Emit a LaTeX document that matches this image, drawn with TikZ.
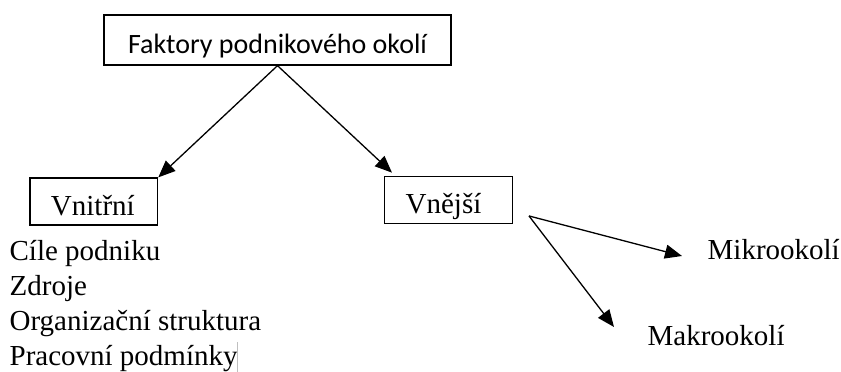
\documentclass[tikz,border=0pt]{standalone}
\usepackage{fontspec}
\setmainfont{Liberation Serif}
\newfontfamily\calibri{Carlito}
\usetikzlibrary{arrows.meta}

\begin{document}
\begin{tikzpicture}[x=1pt,y=-1pt,line width=1.3pt,
    font=\fontsize{29}{35}\selectfont,
    box/.style={draw,inner ysep=0pt,text height=37pt,text depth=10pt},
    item/.style={anchor=base west,inner sep=0pt},
    arr/.style={-{Triangle[length=17pt,width=14pt]}}]

\useasboundingbox (0,0) rectangle (841,372);

\def\listX{9}

\draw (277.5,53) node[box,anchor=base,minimum width=347pt,text height=38pt,text depth=12pt,
    font=\fontsize{28}{34}\selectfont\calibri] (faktory) {Faktory podnikového okolí};

\draw (29.3,215) node[box,anchor=base west,inner xsep=21pt,text width=85.7pt] (vnitrni) {Vnitřní};
\draw (384,213.3) node[box,anchor=base west,inner xsep=21pt,text width=85.7pt] (vnejsi) {Vnější};

\draw[arr] (faktory.south) -- (vnitrni.north east);
\draw[arr] (faktory.south) -- ([xshift=8pt,yshift=3pt]vnejsi.north west);

% vnitrni faktory
\draw (\listX,260) node[item] (cile) {Cíle podniku};
\draw (\listX,295) node[item] (zdroje) {Zdroje};
\draw (\listX,330) node[item] (struktura) {Organizační struktura};
\draw (\listX,365) node[item] (podminky) {Pracovní podmínky};
\draw[gray!50,line width=0.8pt] (237.7,342) -- (237.7,372);

% vnejsi faktory
\draw (707,250) node[item,anchor=west] (mikro) {Mikrookolí};
\draw (647,336) node[item,anchor=west] (makro) {Makrookolí};

\coordinate (rozcesti) at ([xshift=16pt,yshift=8pt]vnejsi.south east);
\draw[arr] (rozcesti) -- ([xshift=-25pt,yshift=-6pt]mikro.west);
\draw[arr] (rozcesti) -- ([xshift=-33pt,yshift=9pt]makro.west);

\end{tikzpicture}
\end{document}
